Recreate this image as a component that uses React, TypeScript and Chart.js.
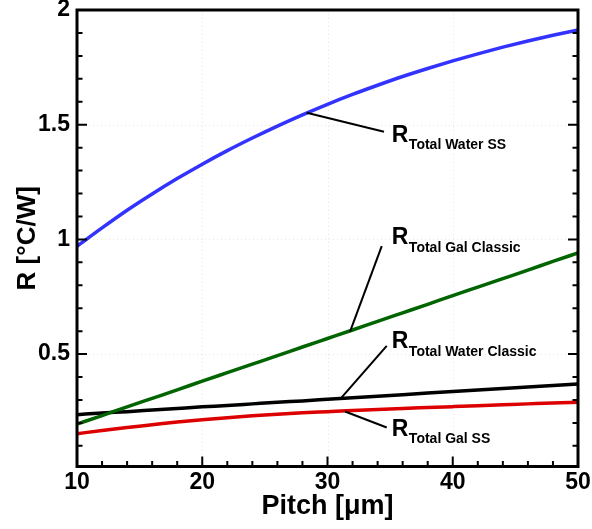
import { useEffect, useRef } from "react";
import { Chart, registerables } from "chart.js";

Chart.register(...registerables);

// Pitch values (µm) at which each resistance curve is sampled
const pitch = [10, 12, 14, 16, 18, 20, 22, 24, 26, 28, 30, 32, 34, 36, 38, 40, 42, 44, 46, 48, 50];

// Thermal resistance series [°C/W]
const rTotalWaterSS = [
  0.97, 1.05, 1.127, 1.198, 1.265, 1.328, 1.387, 1.442, 1.494, 1.543, 1.589,
  1.632, 1.672, 1.71, 1.745, 1.778, 1.809, 1.838, 1.865, 1.89, 1.913,
];
const rTotalGalClassic = [
  0.195, 0.232, 0.27, 0.307, 0.344, 0.382, 0.419, 0.456, 0.493, 0.531, 0.568,
  0.605, 0.643, 0.68, 0.717, 0.755, 0.792, 0.829, 0.866, 0.904, 0.941,
];
const rTotalWaterClassic = [
  0.236, 0.243, 0.249, 0.256, 0.263, 0.27, 0.276, 0.283, 0.29, 0.296, 0.303,
  0.31, 0.316, 0.323, 0.33, 0.337, 0.343, 0.35, 0.357, 0.363, 0.37,
];
const rTotalGalSS = [
  0.153, 0.167, 0.18, 0.192, 0.204, 0.214, 0.223, 0.231, 0.238, 0.244, 0.249,
  0.254, 0.258, 0.263, 0.267, 0.271, 0.275, 0.279, 0.283, 0.287, 0.29,
];

// Axis ticks
const xMajorTicks = [10, 20, 30, 40, 50];
const yMajorTicks = [0.5, 1, 1.5, 2];
const xMinorStep = 2;
const yMinorStep = 0.1;

// Callout labels: subscript text, leader start (on curve), leader end, label anchor
const callouts = [
  { sub: "Total Water SS", from: [28.34, 1.552], to: [34.51, 1.469], at: [35.13, 1.425] },
  { sub: "Total Gal Classic", from: [31.8, 0.598], to: [34.33, 0.971], at: [35.13, 0.979] },
  { sub: "Total Water Classic", from: [31.13, 0.311], to: [34.73, 0.536], at: [35.13, 0.526] },
  { sub: "Total Gal SS", from: [31.4, 0.25], to: [34.73, 0.18], at: [35.13, 0.145] },
];

const FONT = '"Liberation Sans", Arial, Helvetica, sans-serif';

const toPoints = (ys: number[]) => pitch.map((x, i) => ({ x, y: ys[i] }));

const framePlugin = {
  id: "tecFrame",
  beforeDatasetsDraw(chart: any) {
    const { ctx, chartArea: a, scales } = chart;
    const xs = scales.x;
    const ys = scales.y;
    ctx.save();
    ctx.strokeStyle = "#e6e6e6";
    ctx.lineWidth = 1;
    ctx.setLineDash([1, 3]);
    xMajorTicks.forEach((v) => {
      const px = Math.round(xs.getPixelForValue(v)) + 0.5;
      ctx.beginPath();
      ctx.moveTo(px, a.top);
      ctx.lineTo(px, a.bottom);
      ctx.stroke();
    });
    yMajorTicks.forEach((v) => {
      const py = Math.round(ys.getPixelForValue(v)) + 0.5;
      ctx.beginPath();
      ctx.moveTo(a.left, py);
      ctx.lineTo(a.right, py);
      ctx.stroke();
    });
    ctx.restore();
  },
  afterDatasetsDraw(chart: any) {
    const { ctx, chartArea: a, scales } = chart;
    const xs = scales.x;
    const ys = scales.y;

    // callout leaders and labels
    ctx.save();
    ctx.strokeStyle = "#000";
    ctx.fillStyle = "#000";
    ctx.lineWidth = 2;
    callouts.forEach((c) => {
      ctx.beginPath();
      ctx.moveTo(xs.getPixelForValue(c.from[0]), ys.getPixelForValue(c.from[1]));
      ctx.lineTo(xs.getPixelForValue(c.to[0]), ys.getPixelForValue(c.to[1]));
      ctx.stroke();
      const lx = xs.getPixelForValue(c.at[0]);
      const ly = ys.getPixelForValue(c.at[1]);
      ctx.textBaseline = "alphabetic";
      ctx.textAlign = "left";
      ctx.font = `bold 23px ${FONT}`;
      ctx.fillText("R", lx, ly);
      const w = ctx.measureText("R").width;
      ctx.font = `bold 14px ${FONT}`;
      ctx.fillText(c.sub, lx + w + 0.5, ly + 7.5);
    });
    ctx.restore();

    // frame and inward tick marks
    ctx.save();
    ctx.strokeStyle = "#000";
    ctx.lineWidth = 2;
    const major = 10;
    const minor = 5.5;
    for (let v = 10; v <= 50 + 1e-9; v += xMinorStep) {
      const px = xs.getPixelForValue(v);
      const len = xMajorTicks.some((t) => Math.abs(t - v) < 1e-6) ? major : minor;
      ctx.beginPath();
      ctx.moveTo(px, a.bottom);
      ctx.lineTo(px, a.bottom - len);
      ctx.stroke();
    }
    for (let k = 1; k <= 20; k++) {
      const v = k * yMinorStep;
      const py = ys.getPixelForValue(v);
      const len = yMajorTicks.some((t) => Math.abs(t - v) < 1e-6) ? major : minor;
      ctx.beginPath();
      ctx.moveTo(a.left, py);
      ctx.lineTo(a.left + len, py);
      ctx.moveTo(a.right, py);
      ctx.lineTo(a.right - len, py);
      ctx.stroke();
    }
    ctx.lineWidth = 3;
    ctx.strokeRect(a.left, a.top, a.right - a.left, a.bottom - a.top);
    ctx.restore();
  },
};

export default function App() {
  const canvasRef = useRef<HTMLCanvasElement | null>(null);

  useEffect(() => {
    const canvas = canvasRef.current;
    if (!canvas) return;
    const lineOpts = {
      borderWidth: 3.5,
      pointRadius: 0,
      cubicInterpolationMode: "monotone" as const,
      fill: false,
    };
    const chart = new Chart(canvas, {
      type: "line",
      data: {
        datasets: [
          { label: "R Total Water SS", data: toPoints(rTotalWaterSS), borderColor: "#3333ff", ...lineOpts },
          { label: "R Total Gal Classic", data: toPoints(rTotalGalClassic), borderColor: "#006400", ...lineOpts },
          { label: "R Total Gal SS", data: toPoints(rTotalGalSS), borderColor: "#dd0000", ...lineOpts },
          { label: "R Total Water Classic", data: toPoints(rTotalWaterClassic), borderColor: "#000000", ...lineOpts },
        ],
      },
      options: {
        responsive: false,
        animation: false,
        layout: { padding: { top: 10, right: 14, left: 0, bottom: 0 } },
        plugins: {
          legend: { display: false },
          tooltip: { enabled: false },
        },
        scales: {
          x: {
            type: "linear",
            min: 10,
            max: 50,
            grid: { display: false, drawTicks: false },
            border: { display: false },
            afterBuildTicks: (scale: any) => {
              scale.ticks = xMajorTicks.map((value) => ({ value }));
            },
            afterFit: (scale: any) => {
              scale.height = 62.5;
              scale.paddingLeft = 0;
              scale.paddingRight = 0;
            },
            ticks: {
              color: "#000",
              padding: 2,
              maxRotation: 0,
              font: { family: FONT, size: 23, weight: "bold" },
              callback: (v: any) => String(v),
            },
            title: {
              display: true,
              text: "Pitch [\u03bcm]",
              color: "#000",
              padding: { top: 0, bottom: 6 },
              font: { family: FONT, size: 27, weight: "bold" },
            },
          },
          y: {
            type: "linear",
            min: 0.01,
            max: 2,
            grid: { display: false, drawTicks: false },
            border: { display: false },
            afterBuildTicks: (scale: any) => {
              scale.ticks = yMajorTicks.map((value) => ({ value }));
            },
            afterFit: (scale: any) => {
              scale.width = 77;
              scale.paddingTop = 0;
              scale.paddingBottom = 0;
            },
            ticks: {
              color: "#000",
              padding: 7,
              font: { family: FONT, size: 23, weight: "bold" },
              callback: (v: any) => String(v),
            },
            title: {
              display: true,
              text: "R [\u00b0C/W]",
              color: "#000",
              padding: { top: 12, bottom: 0 },
              font: { family: FONT, size: 26, weight: "bold" },
            },
          },
        },
      },
      plugins: [framePlugin],
    });
    return () => chart.destroy();
  }, []);

  return (
    <div style={{ position: "fixed", left: 0, top: 0, width: 592, height: 529, background: "#fff" }}>
      <canvas ref={canvasRef} width={592} height={529} style={{ display: "block" }} />
    </div>
  );
}
